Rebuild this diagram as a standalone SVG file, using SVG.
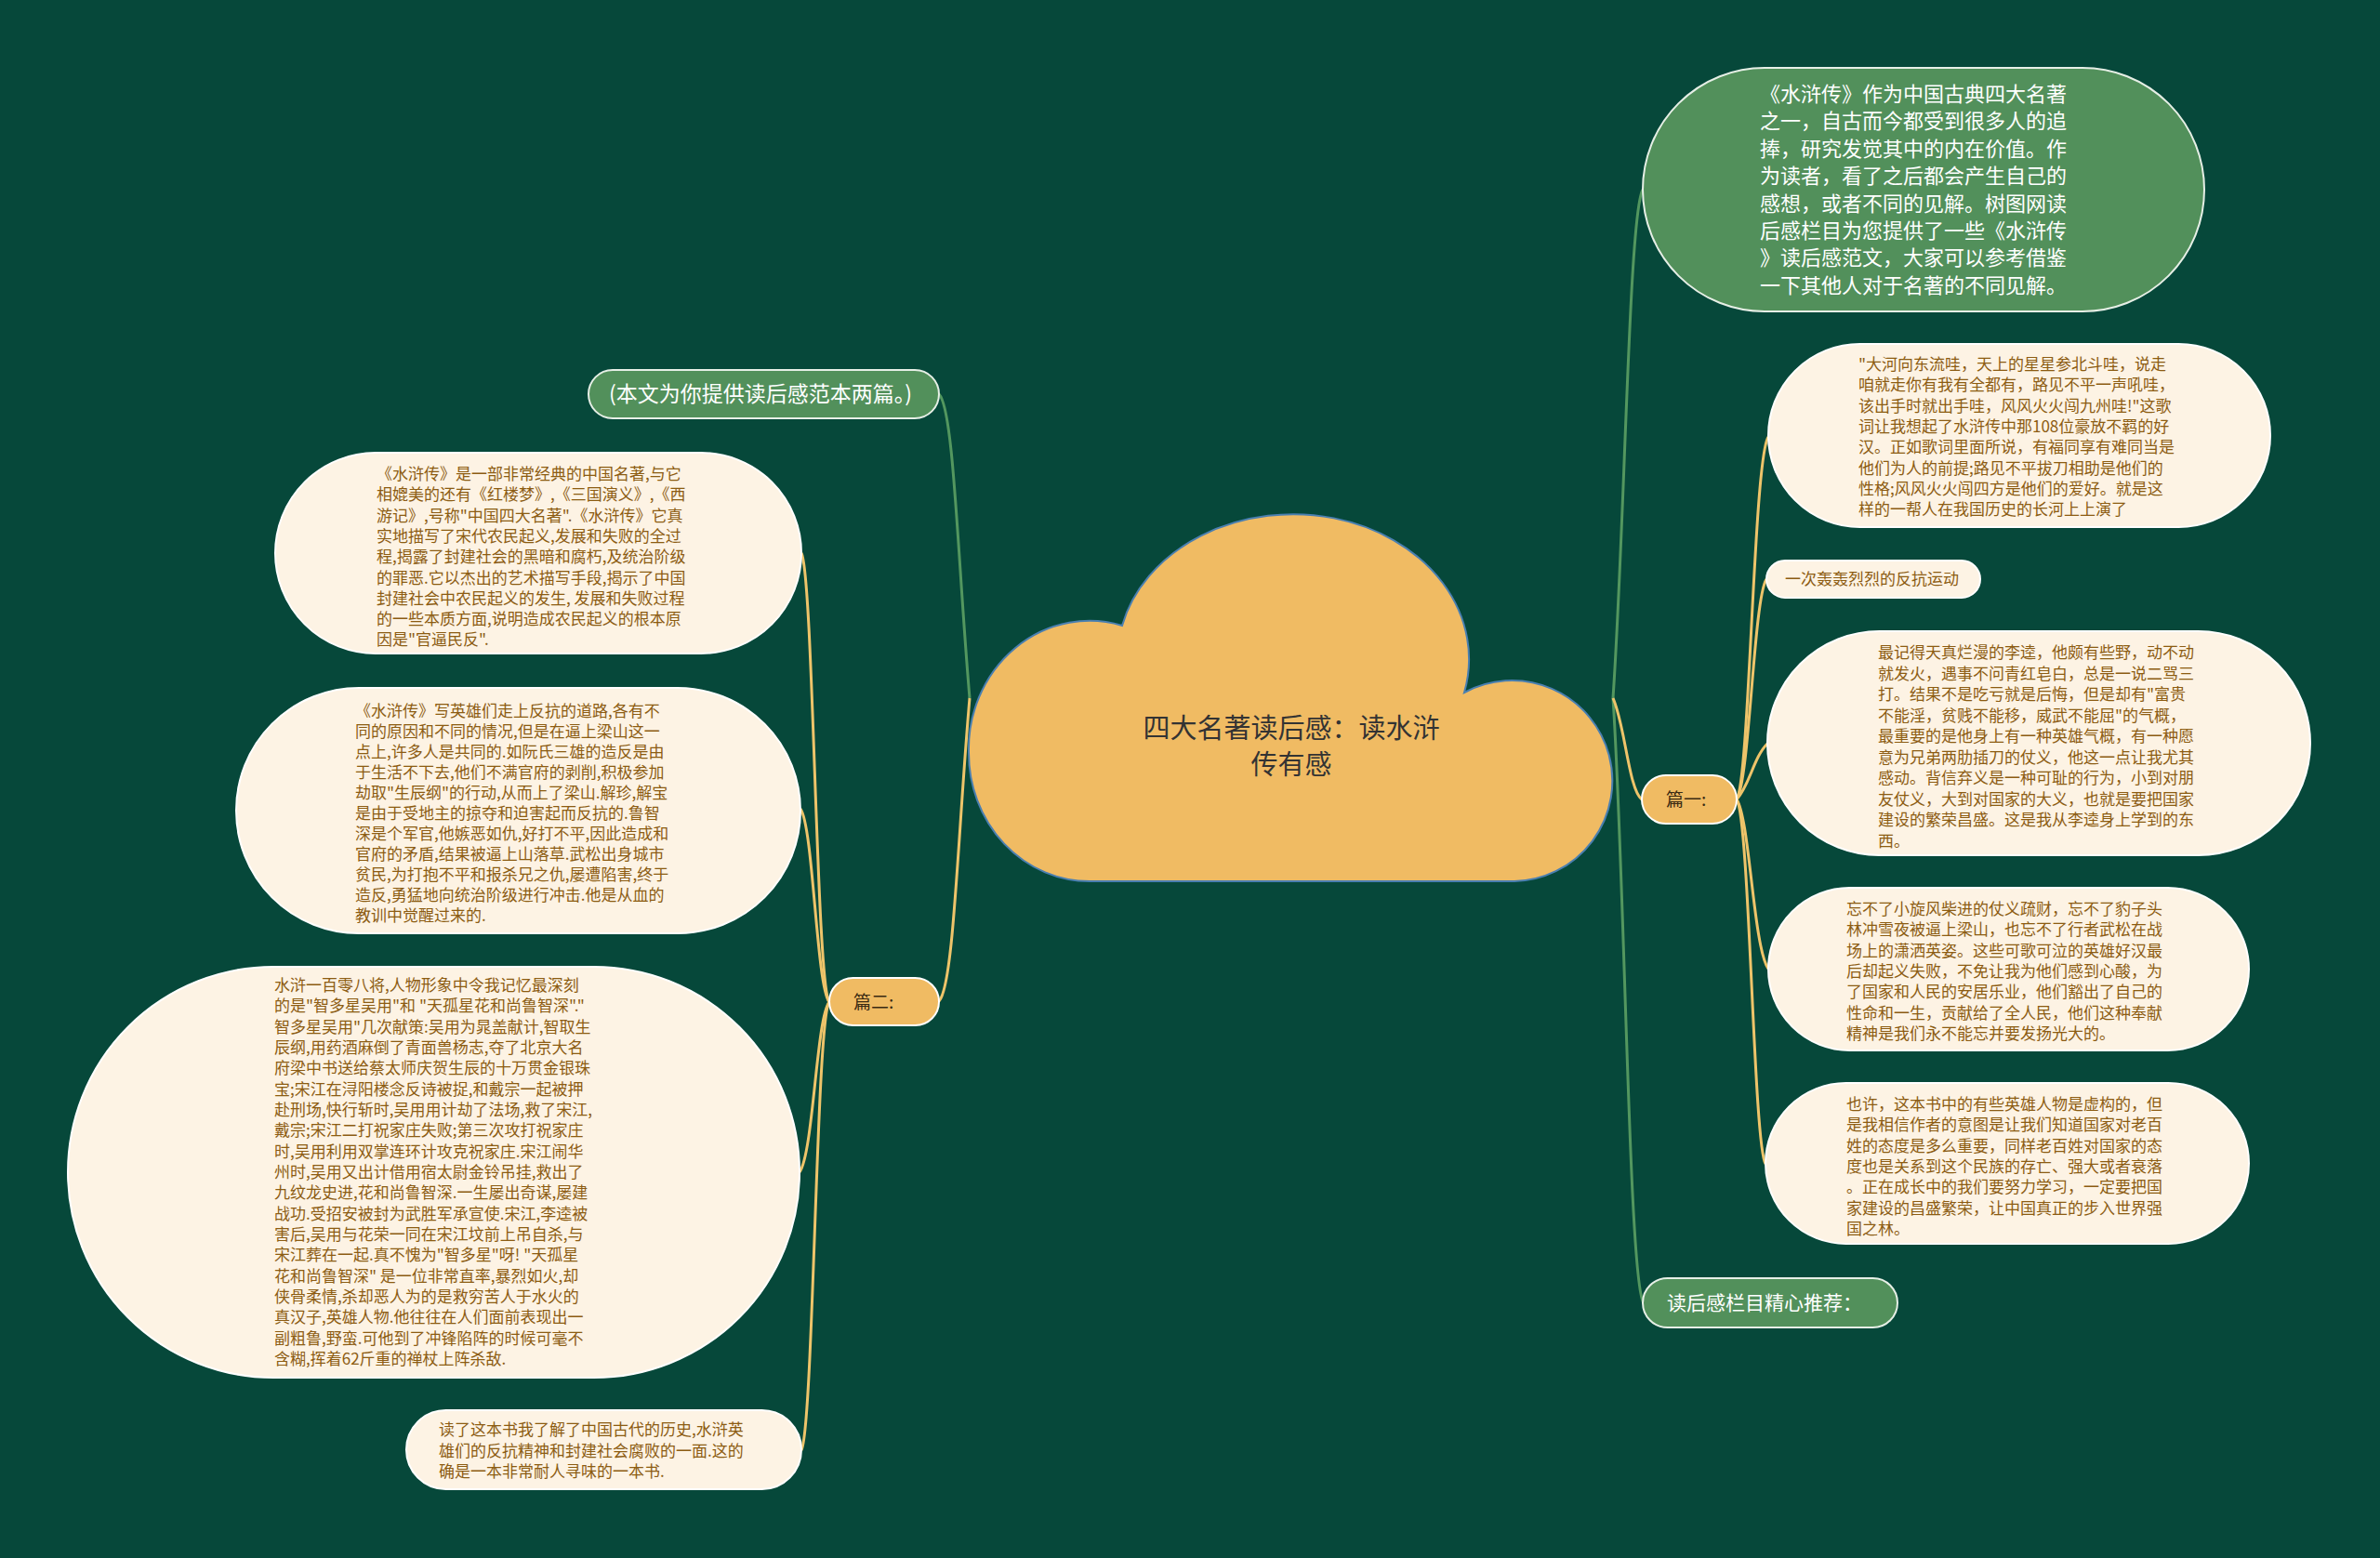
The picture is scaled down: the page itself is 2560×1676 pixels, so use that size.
<svg xmlns="http://www.w3.org/2000/svg" width="2560" height="1676" viewBox="0 0 2560 1676">
<style>
.paper{fill:#FDF3E4;stroke:#ffffff;stroke-width:2}
.green{fill:#52905B;stroke:#e6efe6;stroke-width:2}
.orange{fill:#F0BB63;stroke:#ffffff;stroke-width:2}
.pt{font-family:"Noto Sans CJK SC","Noto Sans",sans-serif;font-size:17px;fill:#8C5C12}
.wt{font-family:"Noto Sans CJK SC","Noto Sans",sans-serif;font-size:22px;fill:#ffffff}
.ot{font-family:"Noto Sans CJK SC","Noto Sans",sans-serif;font-size:19px;fill:#3a2a12}
.ct{font-family:"Noto Sans CJK SC","Noto Sans",sans-serif;font-size:29px;fill:#333333}
.cg{fill:none;stroke:#53975F;stroke-width:3}
.cy{fill:none;stroke:#EEC46A;stroke-width:3}
</style>
<rect x="0" y="0" width="2560" height="1676" fill="#06483A"/>
<g id="connectors">
<path class="cg" d="M1043,751 C1030,600 1026,440 1010,424"/>
<path class="cy" d="M1043,751 C1030,900 1026,1060 1010,1077"/>
<path class="cy" d="M892,1078 C878,1060 875,620 862,595"/>
<path class="cy" d="M892,1078 C878,1060 875,890 861,870"/>
<path class="cy" d="M892,1078 C878,1095 875,1240 860,1261"/>
<path class="cy" d="M892,1078 C878,1095 875,1535 862,1560"/>
<path class="cg" d="M1735,751 C1748,560 1752,230 1767,204"/>
<path class="cg" d="M1735,751 C1748,950 1752,1380 1768,1402"/>
<path class="cy" d="M1735,751 C1748,780 1752,850 1766,860"/>
<path class="cy" d="M1868,860 C1882,840 1886,495 1902,470"/>
<path class="cy" d="M1868,860 C1882,840 1886,645 1900,623"/>
<path class="cy" d="M1868,860 C1882,845 1886,815 1901,800"/>
<path class="cy" d="M1868,860 C1882,880 1886,1020 1902,1042"/>
<path class="cy" d="M1868,860 C1882,880 1886,1230 1899,1252"/>
</g>
<g id="center">
<path d="M1172,948 A130,138 0 0 1 1042,810 A130,138 0 0 1 1207,673 A188,155 0 0 1 1575,745 A108,108 0 1 1 1629,948 Z" fill="#F0BB63" stroke="#4A7FB0" stroke-width="2"/>
<text class="ct" text-anchor="middle"><tspan x="1389" y="794">四大名著读后感：读水浒</tspan><tspan x="1389" y="833">传有感</tspan></text>
</g>
<g id="intro">
<rect class="green" x="1767" y="73" width="604" height="262" rx="131"/>
<text class="wt"><tspan x="1893" y="109">《水浒传》作为中国古典四大名著</tspan><tspan x="1893" y="138.4">之一，自古而今都受到很多人的追</tspan><tspan x="1893" y="167.8">捧，研究发觉其中的内在价值。作</tspan><tspan x="1893" y="197.2">为读者，看了之后都会产生自己的</tspan><tspan x="1893" y="226.6">感想，或者不同的见解。树图网读</tspan><tspan x="1893" y="256">后感栏目为您提供了一些《水浒传</tspan><tspan x="1893" y="285.4">》读后感范文，大家可以参考借鉴</tspan><tspan x="1893" y="314.8">一下其他人对于名著的不同见解。</tspan></text>
</g>
<g id="pian1">
<rect class="orange" x="1766" y="834" width="102" height="52" rx="26"/>
<text class="ot" x="1792" y="867">篇一:</text>
</g>
<g id="r1">
<rect class="paper" x="1902" y="370" width="540" height="197" rx="98.5"/>
<text class="pt"><tspan x="1999" y="398">"大河向东流哇，天上的星星参北斗哇，说走</tspan><tspan x="1999" y="420.3">咱就走你有我有全都有，路见不平一声吼哇，</tspan><tspan x="1999" y="442.6">该出手时就出手哇，风风火火闯九州哇!"这歌</tspan><tspan x="1999" y="464.9">词让我想起了水浒传中那108位豪放不羁的好</tspan><tspan x="1999" y="487.2">汉。正如歌词里面所说，有福同享有难同当是</tspan><tspan x="1999" y="509.5">他们为人的前提;路见不平拔刀相助是他们的</tspan><tspan x="1999" y="531.8">性格;风风火火闯四方是他们的爱好。就是这</tspan><tspan x="1999" y="554.1">样的一帮人在我国历史的长河上上演了</tspan></text>
</g>
<g id="r2">
<rect class="paper" x="1900" y="603" width="230" height="40" rx="20"/>
<text class="pt" x="1920" y="629">一次轰轰烈烈的反抗运动</text>
</g>
<g id="r3">
<rect class="paper" x="1901" y="679" width="584" height="241" rx="120.5"/>
<text class="pt"><tspan x="2020" y="708">最记得天真烂漫的李逵，他颇有些野，动不动</tspan><tspan x="2020" y="730.5">就发火，遇事不问青红皂白，总是一说二骂三</tspan><tspan x="2020" y="753">打。结果不是吃亏就是后悔，但是却有"富贵</tspan><tspan x="2020" y="775.5">不能淫，贫贱不能移，威武不能屈"的气概，</tspan><tspan x="2020" y="798">最重要的是他身上有一种英雄气概，有一种愿</tspan><tspan x="2020" y="820.5">意为兄弟两肋插刀的仗义，他这一点让我尤其</tspan><tspan x="2020" y="843">感动。背信弃义是一种可耻的行为，小到对朋</tspan><tspan x="2020" y="865.5">友仗义，大到对国家的大义，也就是要把国家</tspan><tspan x="2020" y="888">建设的繁荣昌盛。这是我从李逵身上学到的东</tspan><tspan x="2020" y="910.5">西。</tspan></text>
</g>
<g id="r4">
<rect class="paper" x="1902" y="955" width="517" height="175" rx="87.5"/>
<text class="pt"><tspan x="1986" y="984">忘不了小旋风柴进的仗义疏财，忘不了豹子头</tspan><tspan x="1986" y="1006.3">林冲雪夜被逼上梁山，也忘不了行者武松在战</tspan><tspan x="1986" y="1028.6">场上的潇洒英姿。这些可歌可泣的英雄好汉最</tspan><tspan x="1986" y="1050.9">后却起义失败，不免让我为他们感到心酸，为</tspan><tspan x="1986" y="1073.2">了国家和人民的安居乐业，他们豁出了自己的</tspan><tspan x="1986" y="1095.5">性命和一生，贡献给了全人民，他们这种奉献</tspan><tspan x="1986" y="1117.8">精神是我们永不能忘并要发扬光大的。</tspan></text>
</g>
<g id="r5">
<rect class="paper" x="1899" y="1165" width="520" height="173" rx="86.5"/>
<text class="pt"><tspan x="1986" y="1194">也许，这本书中的有些英雄人物是虚构的，但</tspan><tspan x="1986" y="1216.3">是我相信作者的意图是让我们知道国家对老百</tspan><tspan x="1986" y="1238.6">姓的态度是多么重要，同样老百姓对国家的态</tspan><tspan x="1986" y="1260.9">度也是关系到这个民族的存亡、强大或者衰落</tspan><tspan x="1986" y="1283.2">。正在成长中的我们要努力学习，一定要把国</tspan><tspan x="1986" y="1305.5">家建设的昌盛繁荣，让中国真正的步入世界强</tspan><tspan x="1986" y="1327.8">国之林。</tspan></text>
</g>
<g id="recommend">
<rect class="green" x="1767" y="1375" width="274" height="53" rx="26.5"/>
<text class="wt" x="1793" y="1409" style="font-size:21px">读后感栏目精心推荐：</text>
</g>
<g id="note">
<rect class="green" x="633" y="398" width="377" height="52" rx="26"/>
<text class="wt" x="655" y="432" style="font-size:23px">(本文为你提供读后感范本两篇。)</text>
</g>
<g id="pian2">
<rect class="orange" x="892" y="1052" width="118" height="51" rx="25.5"/>
<text class="ot" x="918" y="1085">篇二:</text>
</g>
<g id="l1">
<rect class="paper" x="296" y="487" width="566" height="216" rx="108"/>
<text class="pt"><tspan x="405" y="516">《水浒传》是一部非常经典的中国名著,与它</tspan><tspan x="405" y="538.3">相媲美的还有《红楼梦》,《三国演义》,《西</tspan><tspan x="405" y="560.6">游记》,号称"中国四大名著".《水浒传》它真</tspan><tspan x="405" y="582.9">实地描写了宋代农民起义,发展和失败的全过</tspan><tspan x="405" y="605.2">程,揭露了封建社会的黑暗和腐朽,及统治阶级</tspan><tspan x="405" y="627.5">的罪恶.它以杰出的艺术描写手段,揭示了中国</tspan><tspan x="405" y="649.8">封建社会中农民起义的发生, 发展和失败过程</tspan><tspan x="405" y="672.1">的一些本质方面,说明造成农民起义的根本原</tspan><tspan x="405" y="694.4">因是"官逼民反".</tspan></text>
</g>
<g id="l2">
<rect class="paper" x="254" y="740" width="607" height="264" rx="132"/>
<text class="pt"><tspan x="382" y="771">《水浒传》写英雄们走上反抗的道路,各有不</tspan><tspan x="382" y="793">同的原因和不同的情况,但是在逼上梁山这一</tspan><tspan x="382" y="815">点上,许多人是共同的.如阮氏三雄的造反是由</tspan><tspan x="382" y="837">于生活不下去,他们不满官府的剥削,积极参加</tspan><tspan x="382" y="859">劫取"生辰纲"的行动,从而上了梁山.解珍,解宝</tspan><tspan x="382" y="881">是由于受地主的掠夺和迫害起而反抗的.鲁智</tspan><tspan x="382" y="903">深是个军官,他嫉恶如仇,好打不平,因此造成和</tspan><tspan x="382" y="925">官府的矛盾,结果被逼上山落草.武松出身城市</tspan><tspan x="382" y="947">贫民,为打抱不平和报杀兄之仇,屡遭陷害,终于</tspan><tspan x="382" y="969">造反,勇猛地向统治阶级进行冲击.他是从血的</tspan><tspan x="382" y="991">教训中觉醒过来的.</tspan></text>
</g>
<g id="l3">
<rect class="paper" x="73" y="1040" width="787" height="442" rx="221"/>
<text class="pt"><tspan x="295" y="1066">水浒一百零八将,人物形象中令我记忆最深刻</tspan><tspan x="295" y="1088.3">的是"智多星吴用"和 "天孤星花和尚鲁智深"."</tspan><tspan x="295" y="1110.7">智多星吴用"几次献策:吴用为晁盖献计,智取生</tspan><tspan x="295" y="1133">辰纲,用药酒麻倒了青面兽杨志,夺了北京大名</tspan><tspan x="295" y="1155.3">府梁中书送给蔡太师庆贺生辰的十万贯金银珠</tspan><tspan x="295" y="1177.7">宝;宋江在浔阳楼念反诗被捉,和戴宗一起被押</tspan><tspan x="295" y="1200">赴刑场,快行斩时,吴用用计劫了法场,救了宋江,</tspan><tspan x="295" y="1222.3">戴宗;宋江二打祝家庄失败;第三次攻打祝家庄</tspan><tspan x="295" y="1244.7">时,吴用利用双掌连环计攻克祝家庄.宋江闹华</tspan><tspan x="295" y="1267">州时,吴用又出计借用宿太尉金铃吊挂,救出了</tspan><tspan x="295" y="1289.3">九纹龙史进,花和尚鲁智深.一生屡出奇谋,屡建</tspan><tspan x="295" y="1311.7">战功.受招安被封为武胜军承宣使.宋江,李逵被</tspan><tspan x="295" y="1334">害后,吴用与花荣一同在宋江坟前上吊自杀,与</tspan><tspan x="295" y="1356.3">宋江葬在一起.真不愧为"智多星"呀! "天孤星</tspan><tspan x="295" y="1378.7">花和尚鲁智深" 是一位非常直率,暴烈如火,却</tspan><tspan x="295" y="1401">侠骨柔情,杀却恶人为的是救穷苦人于水火的</tspan><tspan x="295" y="1423.3">真汉子,英雄人物.他往往在人们面前表现出一</tspan><tspan x="295" y="1445.7">副粗鲁,野蛮.可他到了冲锋陷阵的时候可毫不</tspan><tspan x="295" y="1468">含糊,挥着62斤重的禅杖上阵杀敌.</tspan></text>
</g>
<g id="l4">
<rect class="paper" x="437" y="1517" width="425" height="85" rx="42.5"/>
<text class="pt"><tspan x="472" y="1544">读了这本书我了解了中国古代的历史,水浒英</tspan><tspan x="472" y="1566.5">雄们的反抗精神和封建社会腐败的一面.这的</tspan><tspan x="472" y="1589">确是一本非常耐人寻味的一本书.</tspan></text>
</g>
</svg>
